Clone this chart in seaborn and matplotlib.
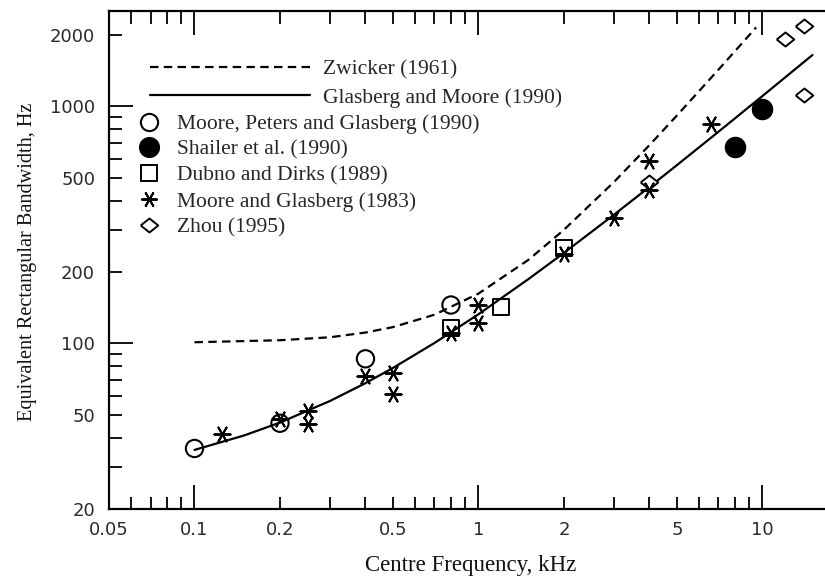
import numpy as np
import pandas as pd
import matplotlib
matplotlib.use("Agg")
import matplotlib.pyplot as plt
import seaborn as sns
from matplotlib.lines import Line2D
from matplotlib.ticker import FixedLocator, FuncFormatter

# ---- data ----
# Curves (centre frequency kHz, bandwidth Hz)
zw_freq = [0.1, 0.2, 0.3, 0.4, 0.5, 0.7, 1.0, 1.5, 2.0, 3.0, 4.0, 5.0, 7.0, 9.5]
zw_bw = [101, 103, 106, 111, 117, 132, 162, 225, 301, 479, 685, 914, 1426, 2149]

gm_freq = [0.1, 0.15, 0.2, 0.3, 0.4, 0.5, 0.7, 1.0, 1.5, 2.0, 3.0, 4.0, 5.0, 7.0, 10.0, 15.0]
gm_bw = [35.5, 40.9, 46.3, 57.1, 67.9, 78.7, 100.3, 132.6, 186.6, 240.6, 348.5, 456.5, 564.4, 780.3, 1104, 1644]

# Moore, Peters and Glasberg (1990)
mpg_freq = [0.1, 0.2, 0.4, 0.8]
mpg_bw = [36, 46, 86, 145]
# Shailer et al. (1990)
sh_freq = [8.0, 10.0]
sh_bw = [670, 970]
# Dubno and Dirks (1989)
dd_freq = [0.8, 1.2, 2.0]
dd_bw = [116, 142, 252]
# Moore and Glasberg (1983)
mg_freq = [0.125, 0.2, 0.25, 0.25, 0.4, 0.5, 0.5, 0.8, 1.0, 1.0, 2.0, 3.0, 4.0, 4.0, 6.6]
mg_bw = [41.5, 48, 52, 45.5, 73, 75, 61, 110, 145, 122, 238, 338, 442, 590, 840]
# Zhou (1995)
zh_freq = [4.0, 12.0, 14.0, 14.0]
zh_bw = [480, 1920, 2180, 1120]

labels_lines = ["Zwicker (1961)", "Glasberg and Moore (1990)"]
labels_marks = ["Moore, Peters and Glasberg (1990)", "Shailer et al. (1990)",
                "Dubno and Dirks (1989)", "Moore and Glasberg (1983)", "Zhou (1995)"]

x_major = [0.1, 1, 10]
x_minor = [0.05, 0.06, 0.07, 0.08, 0.09, 0.2, 0.3, 0.4, 0.5, 0.6, 0.7, 0.8, 0.9,
           2, 3, 4, 5, 6, 7, 8, 9]
x_minor_labels = [0.05, 0.2, 0.5, 2, 5]
y_major = [100, 1000]
y_minor = [20, 30, 40, 50, 60, 70, 80, 90, 200, 300, 400, 500, 600, 700, 800, 900, 2000]
y_minor_labels = [20, 50, 200, 500, 2000]

# ---- figure ----
sns.set_style("ticks")
plt.rcParams['font.family'] = ['Liberation Serif', 'DejaVu Serif']

fig = plt.figure(figsize=(8.25, 5.76), dpi=100)
ax = fig.add_axes([109 / 825, 1 - 509 / 576, 1 - 109 / 825, (509 - 11) / 576])

dash = (0, (3.8, 2.4))
zw = pd.DataFrame({"f": zw_freq, "bw": zw_bw})
gm = pd.DataFrame({"f": gm_freq, "bw": gm_bw})
sns.lineplot(data=zw, x="f", y="bw", ax=ax, color="black", lw=1.6,
             linestyle=dash, estimator=None, sort=False)
sns.lineplot(data=gm, x="f", y="bw", ax=ax, color="black", lw=1.6,
             estimator=None, sort=False)

diamond = [(-1, 0), (0, 0.8), (1, 0), (0, -0.8), (-1, 0)]
star = (6, 2, 30)

sns.scatterplot(x=mpg_freq, y=mpg_bw, ax=ax, marker="o", s=155,
                facecolor="none", edgecolor="black", linewidth=1.5, zorder=5)
sns.scatterplot(x=sh_freq, y=sh_bw, ax=ax, marker="o", s=210,
                facecolor="black", edgecolor="black", linewidth=1.0, zorder=5)
sns.scatterplot(x=dd_freq, y=dd_bw, ax=ax, marker="s", s=125,
                facecolor="none", edgecolor="black", linewidth=1.4, zorder=5)
sns.scatterplot(x=mg_freq, y=mg_bw, ax=ax, marker=star, s=135,
                color="black", linewidth=1.4, zorder=6)
sns.scatterplot(x=zh_freq, y=zh_bw, ax=ax, marker=diamond, s=160,
                facecolor="white", edgecolor="black", linewidth=1.4, zorder=5)

ax.set_xscale("log")
ax.set_yscale("log")
ax.set_xlim(0.05, 16.6)
ax.set_ylim(20, 2520)

ax.xaxis.set_major_locator(FixedLocator(x_major))
ax.xaxis.set_minor_locator(FixedLocator(x_minor))
ax.yaxis.set_major_locator(FixedLocator(y_major))
ax.yaxis.set_minor_locator(FixedLocator(y_minor))


def fmt(v, pos=None):
    return f"{v:g}"


def fmt_minor_x(v, pos=None):
    return f"{v:g}" if any(abs(v - t) < 1e-9 * max(1, t) for t in x_minor_labels) else ""


def fmt_minor_y(v, pos=None):
    return f"{v:g}" if any(abs(v - t) < 1e-6 for t in y_minor_labels) else ""


ax.xaxis.set_major_formatter(FuncFormatter(fmt))
ax.xaxis.set_minor_formatter(FuncFormatter(fmt_minor_x))
ax.yaxis.set_major_formatter(FuncFormatter(fmt))
ax.yaxis.set_minor_formatter(FuncFormatter(fmt_minor_y))

ax.tick_params(axis="both", which="both", direction="in", top=True, right=False,
               labelsize=13, labelcolor="#2a2a2a", width=1.3, color="black")
ax.tick_params(axis="both", which="major", length=17)
ax.tick_params(axis="both", which="minor", length=9)
ax.tick_params(axis="x", which="both", pad=8.5)
ax.tick_params(axis="y", which="both", pad=10)
for lab in ax.xaxis.get_ticklabels(which="both") + ax.yaxis.get_ticklabels(which="both"):
    lab.set_fontfamily("DejaVu Sans")

for side in ["left", "bottom", "top"]:
    ax.spines[side].set_linewidth(1.6)
    ax.spines[side].set_color("black")
ax.spines["right"].set_visible(False)

ax.set_xlabel("Centre Frequency, kHz", fontsize=16.5, color="#111111")
ax.set_ylabel("Equivalent Rectangular Bandwidth, Hz", fontsize=14.6, color="#111111")
ax.xaxis.set_label_coords((471 - 109) / 716, (509 - 555) / 498)
ax.yaxis.set_label_coords((37 - 109) / 716, (509 - 262) / 498)

# legends
line_handles = [Line2D([], [], color="black", lw=1.6, linestyle=dash),
                Line2D([], [], color="black", lw=1.6)]
leg1 = fig.legend(line_handles, labels_lines, loc="upper left",
                  bbox_to_anchor=(150 / 825, 1 - 59 / 576), frameon=False,
                  fontsize=15.5, handlelength=7.45, handletextpad=0.6,
                  labelspacing=0.39, borderpad=0, borderaxespad=0)

mark_handles = [
    Line2D([], [], ls="", marker="o", ms=12.4, mfc="none", mec="black", mew=1.5),
    Line2D([], [], ls="", marker="o", ms=14.2, mfc="black", mec="black", mew=1.0),
    Line2D([], [], ls="", marker="s", ms=11.2, mfc="none", mec="black", mew=1.4),
    Line2D([], [], ls="", marker=star, ms=11.6, color="black", mew=1.4),
    Line2D([], [], ls="", marker=diamond, ms=12.6, mfc="none", mec="black", mew=1.4),
]
leg2 = fig.legend(mark_handles, labels_marks, loc="upper left",
                  bbox_to_anchor=(137 / 825, 1 - 114 / 576), frameon=False,
                  fontsize=15.5, handlelength=1.07, handletextpad=0.8,
                  labelspacing=0.27, borderpad=0, borderaxespad=0)

fig.savefig("out.png", dpi=100)
